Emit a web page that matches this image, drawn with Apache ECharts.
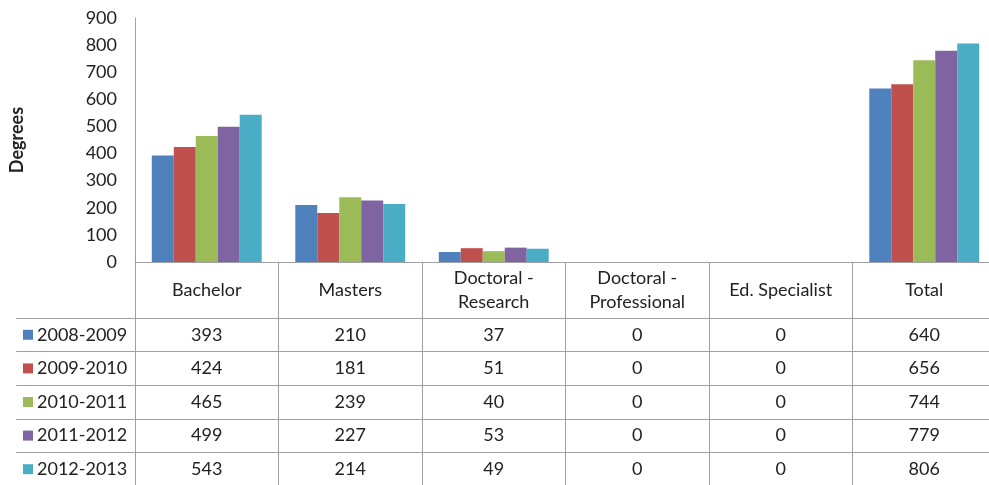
<!DOCTYPE html>
<html>
<head>
<meta charset="utf-8">
<script src="https://cdn.jsdelivr.net/npm/echarts@6/dist/echarts.min.js"></script>
<style>
  html, body { margin: 0; padding: 0; background: #fff; }
  #main { width: 989px; height: 485px; }
</style>
</head>
<body>
<div id="main"></div>
<script>
// chart data
const categories = ["Bachelor", "Masters", "Doctoral -\nResearch", "Doctoral -\nProfessional", "Ed. Specialist", "Total"];
const years = ["2008-2009", "2009-2010", "2010-2011", "2011-2012", "2012-2013"];
const y2008 = [393, 210, 37, 0, 0, 640];
const y2009 = [424, 181, 51, 0, 0, 656];
const y2010 = [465, 239, 40, 0, 0, 744];
const y2011 = [499, 227, 53, 0, 0, 779];
const y2012 = [543, 214, 49, 0, 0, 806];
const yearValues = [y2008, y2009, y2010, y2011, y2012];
const colors = ["#4F81BD", "#C0504D", "#9BBB59", "#8064A2", "#4BACC6"];

const font = "Lato";
const fs = 18;
const lineColor = "#a0a0a0";
const textColor = "#222";

// table cells: [column, row, value]
const cells = [];
yearValues.forEach((vals, r) => {
  vals.forEach((v, c) => cells.push([c, r, v]));
});

const rich = {};
colors.forEach((c, i) => {
  rich["s" + i] = { width: 10, height: 10, backgroundColor: c };
  rich["t" + i] = { fontSize: fs, fontFamily: font, color: textColor, padding: [0, 0, 0, 4] };
});

const barSeries = years.map((name, i) => ({
  name: name,
  type: "bar",
  xAxisIndex: 0,
  yAxisIndex: 0,
  data: yearValues[i],
  barGap: "0%",
  barCategoryGap: "23.4%",
  itemStyle: { color: colors[i] },
}));

const myChart = echarts.init(document.getElementById("main"));
myChart.setOption({
  animation: false,
  grid: [
    { left: 135, top: 18, width: 861, height: 244, outerBoundsMode: "none", containLabel: false },
    { left: 135, top: 318, width: 861, height: 168, outerBoundsMode: "none", containLabel: false },
  ],
  xAxis: [
    {
      gridIndex: 0,
      type: "category",
      data: categories,
      axisLine: { lineStyle: { color: lineColor } },
      axisTick: { show: true, interval: 0, length: 56, lineStyle: { color: lineColor } },
      axisLabel: {
        interval: 0,
        margin: 28,
        verticalAlign: "middle",
        lineHeight: 24,
        fontSize: fs,
        fontFamily: font,
        color: textColor,
      },
    },
    {
      gridIndex: 1,
      type: "category",
      data: categories,
      position: "top",
      axisLine: { show: true, lineStyle: { color: lineColor } },
      axisTick: { show: false },
      axisLabel: { show: false },
      splitLine: { show: true, interval: 0, lineStyle: { color: lineColor } },
    },
  ],
  yAxis: [
    {
      gridIndex: 0,
      type: "value",
      min: 0,
      max: 900,
      interval: 100,
      name: "Degrees",
      nameLocation: "middle",
      nameGap: 109,
      nameRotate: 90,
      nameTextStyle: { fontSize: fs, fontWeight: "bold", fontFamily: font, color: textColor },
      axisLine: { show: true, lineStyle: { color: lineColor } },
      axisTick: { show: false },
      splitLine: { show: false },
      axisLabel: { margin: 18, fontSize: fs, fontFamily: font, color: textColor },
    },
    {
      gridIndex: 1,
      type: "category",
      data: years,
      inverse: true,
      axisLine: { show: true, lineStyle: { color: lineColor } },
      axisTick: { show: true, interval: 0, length: 119, lineStyle: { color: lineColor } },
      splitLine: { show: true, interval: 0, lineStyle: { color: lineColor } },
      axisLabel: {
        interval: 0,
        margin: 112,
        align: "left",
        formatter: (v, i) => "{s" + i + "|}{t" + i + "|" + v + "}",
        rich: rich,
      },
    },
    {
      gridIndex: 1,
      type: "category",
      data: years,
      inverse: true,
      offset: 119,
      axisLine: { show: true, lineStyle: { color: lineColor } },
      axisTick: { show: false },
      axisLabel: { show: false },
      splitLine: { show: false },
    },
  ],
  series: barSeries.concat([
    {
      type: "custom",
      xAxisIndex: 1,
      yAxisIndex: 1,
      data: cells,
      renderItem: (params, api) => {
        const p = api.coord([api.value(0), api.value(1)]);
        return {
          type: "text",
          x: p[0],
          y: p[1],
          style: {
            text: String(api.value(2)),
            align: "center",
            verticalAlign: "middle",
            fontSize: fs,
            fontFamily: font,
            fill: textColor,
          },
        };
      },
    },
  ]),
});
</script>
</body>
</html>
